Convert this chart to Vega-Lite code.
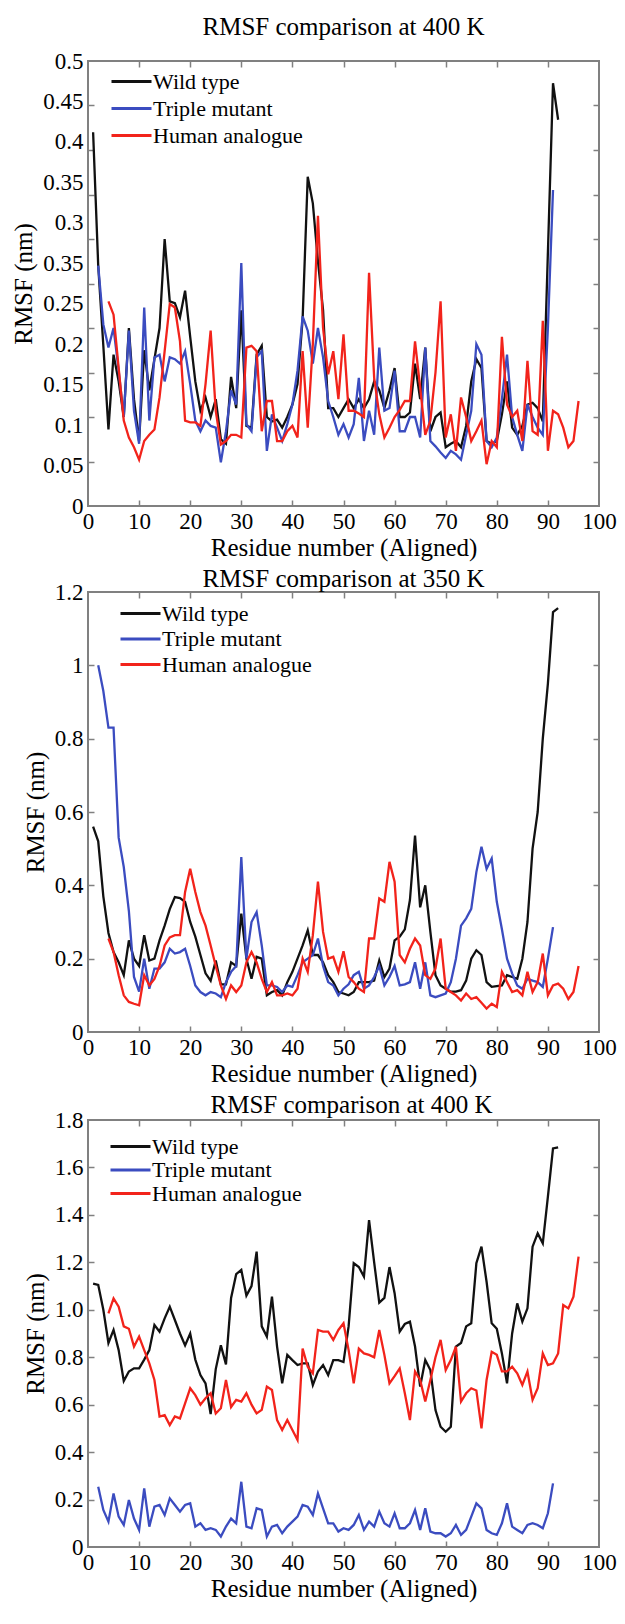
{
"$schema": "https://vega.github.io/schema/vega-lite/v6.json",
"padding": {"left": 10, "top": 14, "right": 5, "bottom": 5},
"spacing": 5,
"resolve": {"scale": {"color": "independent"}, "legend": {"color": "independent"}},
"config": {
 "font": "Liberation Serif, DejaVu Serif, serif",
 "view": {"stroke": "#808080", "strokeWidth": 2},
 "axis": {"labelFont": "Liberation Serif, DejaVu Serif, serif", "labelFontSize": 23, "labelColor": "#000", "titleFont": "Liberation Serif, DejaVu Serif, serif", "titleFontSize": 25, "titleFontWeight": "normal", "titleColor": "#000", "tickColor": "#808080", "tickWidth": 1.5, "grid": false, "domain": false},
 "title": {"font": "Liberation Serif, DejaVu Serif, serif", "fontSize": 25, "fontWeight": "normal", "color": "#000", "anchor": "middle"},
 "legend": {"orient": "none", "title": null, "symbolType": "M-2,0H2", "symbolSize": 400, "symbolStrokeWidth": 3, "labelFont": "Liberation Serif, DejaVu Serif, serif", "labelFontSize": 22, "labelColor": "#000", "labelOffset": 10, "padding": 0}
},
"datasets": {
"p1": [
{"s":"Wild type","r":1,"v":0.42},{"s":"Wild type","r":2,"v":0.27},{"s":"Wild type","r":3,"v":0.18},{"s":"Wild type","r":4,"v":0.086},{"s":"Wild type","r":5,"v":0.17},{"s":"Wild type","r":6,"v":0.14},{"s":"Wild type","r":7,"v":0.1},{"s":"Wild type","r":8,"v":0.2},{"s":"Wild type","r":9,"v":0.12},{"s":"Wild type","r":10,"v":0.073},{"s":"Wild type","r":11,"v":0.175},{"s":"Wild type","r":12,"v":0.13},{"s":"Wild type","r":13,"v":0.165},{"s":"Wild type","r":14,"v":0.2},{"s":"Wild type","r":15,"v":0.3},{"s":"Wild type","r":16,"v":0.23},{"s":"Wild type","r":17,"v":0.228},{"s":"Wild type","r":18,"v":0.212},{"s":"Wild type","r":19,"v":0.242},{"s":"Wild type","r":20,"v":0.19},{"s":"Wild type","r":21,"v":0.14},{"s":"Wild type","r":22,"v":0.107},{"s":"Wild type","r":23,"v":0.122},{"s":"Wild type","r":24,"v":0.1},{"s":"Wild type","r":25,"v":0.12},{"s":"Wild type","r":26,"v":0.075},{"s":"Wild type","r":27,"v":0.07},{"s":"Wild type","r":28,"v":0.145},{"s":"Wild type","r":29,"v":0.11},{"s":"Wild type","r":30,"v":0.22},{"s":"Wild type","r":31,"v":0.09},{"s":"Wild type","r":32,"v":0.088},{"s":"Wild type","r":33,"v":0.17},{"s":"Wild type","r":34,"v":0.18},{"s":"Wild type","r":35,"v":0.1},{"s":"Wild type","r":36,"v":0.095},{"s":"Wild type","r":37,"v":0.097},{"s":"Wild type","r":38,"v":0.088},{"s":"Wild type","r":39,"v":0.1},{"s":"Wild type","r":40,"v":0.114},{"s":"Wild type","r":41,"v":0.137},{"s":"Wild type","r":42,"v":0.21},{"s":"Wild type","r":43,"v":0.37},{"s":"Wild type","r":44,"v":0.34},{"s":"Wild type","r":45,"v":0.275},{"s":"Wild type","r":46,"v":0.22},{"s":"Wild type","r":47,"v":0.11},{"s":"Wild type","r":48,"v":0.11},{"s":"Wild type","r":49,"v":0.1},{"s":"Wild type","r":50,"v":0.11},{"s":"Wild type","r":51,"v":0.12},{"s":"Wild type","r":52,"v":0.11},{"s":"Wild type","r":53,"v":0.12},{"s":"Wild type","r":54,"v":0.11},{"s":"Wild type","r":55,"v":0.12},{"s":"Wild type","r":56,"v":0.14},{"s":"Wild type","r":57,"v":0.13},{"s":"Wild type","r":58,"v":0.11},{"s":"Wild type","r":59,"v":0.13},{"s":"Wild type","r":60,"v":0.155},{"s":"Wild type","r":61,"v":0.1},{"s":"Wild type","r":62,"v":0.1},{"s":"Wild type","r":63,"v":0.105},{"s":"Wild type","r":64,"v":0.16},{"s":"Wild type","r":65,"v":0.12},{"s":"Wild type","r":66,"v":0.178},{"s":"Wild type","r":67,"v":0.084},{"s":"Wild type","r":68,"v":0.1},{"s":"Wild type","r":69,"v":0.105},{"s":"Wild type","r":70,"v":0.066},{"s":"Wild type","r":71,"v":0.07},{"s":"Wild type","r":72,"v":0.073},{"s":"Wild type","r":73,"v":0.066},{"s":"Wild type","r":74,"v":0.09},{"s":"Wild type","r":75,"v":0.14},{"s":"Wild type","r":76,"v":0.165},{"s":"Wild type","r":77,"v":0.155},{"s":"Wild type","r":78,"v":0.073},{"s":"Wild type","r":79,"v":0.07},{"s":"Wild type","r":80,"v":0.073},{"s":"Wild type","r":81,"v":0.103},{"s":"Wild type","r":82,"v":0.14},{"s":"Wild type","r":83,"v":0.088},{"s":"Wild type","r":84,"v":0.08},{"s":"Wild type","r":85,"v":0.09},{"s":"Wild type","r":86,"v":0.114},{"s":"Wild type","r":87,"v":0.116},{"s":"Wild type","r":88,"v":0.11},{"s":"Wild type","r":89,"v":0.095},{"s":"Wild type","r":90,"v":0.285},{"s":"Wild type","r":91,"v":0.475},{"s":"Wild type","r":92,"v":0.434},
{"s":"Triple mutant","r":2,"v":0.27},{"s":"Triple mutant","r":3,"v":0.204},{"s":"Triple mutant","r":4,"v":0.178},{"s":"Triple mutant","r":5,"v":0.2},{"s":"Triple mutant","r":6,"v":0.152},{"s":"Triple mutant","r":7,"v":0.1},{"s":"Triple mutant","r":8,"v":0.197},{"s":"Triple mutant","r":9,"v":0.107},{"s":"Triple mutant","r":10,"v":0.07},{"s":"Triple mutant","r":11,"v":0.223},{"s":"Triple mutant","r":12,"v":0.096},{"s":"Triple mutant","r":13,"v":0.167},{"s":"Triple mutant","r":14,"v":0.17},{"s":"Triple mutant","r":15,"v":0.14},{"s":"Triple mutant","r":16,"v":0.167},{"s":"Triple mutant","r":17,"v":0.165},{"s":"Triple mutant","r":18,"v":0.16},{"s":"Triple mutant","r":19,"v":0.174},{"s":"Triple mutant","r":20,"v":0.137},{"s":"Triple mutant","r":21,"v":0.096},{"s":"Triple mutant","r":22,"v":0.084},{"s":"Triple mutant","r":23,"v":0.096},{"s":"Triple mutant","r":24,"v":0.09},{"s":"Triple mutant","r":25,"v":0.088},{"s":"Triple mutant","r":26,"v":0.049},{"s":"Triple mutant","r":27,"v":0.084},{"s":"Triple mutant","r":28,"v":0.13},{"s":"Triple mutant","r":29,"v":0.114},{"s":"Triple mutant","r":30,"v":0.273},{"s":"Triple mutant","r":31,"v":0.092},{"s":"Triple mutant","r":32,"v":0.084},{"s":"Triple mutant","r":33,"v":0.167},{"s":"Triple mutant","r":34,"v":0.174},{"s":"Triple mutant","r":35,"v":0.062},{"s":"Triple mutant","r":36,"v":0.103},{"s":"Triple mutant","r":37,"v":0.088},{"s":"Triple mutant","r":38,"v":0.073},{"s":"Triple mutant","r":39,"v":0.092},{"s":"Triple mutant","r":40,"v":0.114},{"s":"Triple mutant","r":41,"v":0.152},{"s":"Triple mutant","r":42,"v":0.213},{"s":"Triple mutant","r":43,"v":0.197},{"s":"Triple mutant","r":44,"v":0.16},{"s":"Triple mutant","r":45,"v":0.2},{"s":"Triple mutant","r":46,"v":0.167},{"s":"Triple mutant","r":47,"v":0.118},{"s":"Triple mutant","r":48,"v":0.1},{"s":"Triple mutant","r":49,"v":0.08},{"s":"Triple mutant","r":50,"v":0.092},{"s":"Triple mutant","r":51,"v":0.077},{"s":"Triple mutant","r":52,"v":0.092},{"s":"Triple mutant","r":53,"v":0.144},{"s":"Triple mutant","r":54,"v":0.073},{"s":"Triple mutant","r":55,"v":0.107},{"s":"Triple mutant","r":56,"v":0.08},{"s":"Triple mutant","r":57,"v":0.178},{"s":"Triple mutant","r":58,"v":0.107},{"s":"Triple mutant","r":59,"v":0.11},{"s":"Triple mutant","r":60,"v":0.152},{"s":"Triple mutant","r":61,"v":0.084},{"s":"Triple mutant","r":62,"v":0.084},{"s":"Triple mutant","r":63,"v":0.1},{"s":"Triple mutant","r":64,"v":0.1},{"s":"Triple mutant","r":65,"v":0.077},{"s":"Triple mutant","r":66,"v":0.178},{"s":"Triple mutant","r":67,"v":0.073},{"s":"Triple mutant","r":68,"v":0.067},{"s":"Triple mutant","r":69,"v":0.06},{"s":"Triple mutant","r":70,"v":0.054},{"s":"Triple mutant","r":71,"v":0.062},{"s":"Triple mutant","r":72,"v":0.058},{"s":"Triple mutant","r":73,"v":0.052},{"s":"Triple mutant","r":74,"v":0.08},{"s":"Triple mutant","r":75,"v":0.107},{"s":"Triple mutant","r":76,"v":0.182},{"s":"Triple mutant","r":77,"v":0.17},{"s":"Triple mutant","r":78,"v":0.073},{"s":"Triple mutant","r":79,"v":0.066},{"s":"Triple mutant","r":80,"v":0.077},{"s":"Triple mutant","r":81,"v":0.12},{"s":"Triple mutant","r":82,"v":0.17},{"s":"Triple mutant","r":83,"v":0.1},{"s":"Triple mutant","r":84,"v":0.08},{"s":"Triple mutant","r":85,"v":0.062},{"s":"Triple mutant","r":86,"v":0.114},{"s":"Triple mutant","r":87,"v":0.1},{"s":"Triple mutant","r":88,"v":0.088},{"s":"Triple mutant","r":89,"v":0.08},{"s":"Triple mutant","r":90,"v":0.2},{"s":"Triple mutant","r":91,"v":0.355},
{"s":"Human analogue","r":4,"v":0.23},{"s":"Human analogue","r":5,"v":0.215},{"s":"Human analogue","r":6,"v":0.155},{"s":"Human analogue","r":7,"v":0.096},{"s":"Human analogue","r":8,"v":0.077},{"s":"Human analogue","r":9,"v":0.066},{"s":"Human analogue","r":10,"v":0.052},{"s":"Human analogue","r":11,"v":0.073},{"s":"Human analogue","r":12,"v":0.08},{"s":"Human analogue","r":13,"v":0.086},{"s":"Human analogue","r":14,"v":0.122},{"s":"Human analogue","r":15,"v":0.174},{"s":"Human analogue","r":16,"v":0.227},{"s":"Human analogue","r":17,"v":0.223},{"s":"Human analogue","r":18,"v":0.185},{"s":"Human analogue","r":19,"v":0.096},{"s":"Human analogue","r":20,"v":0.094},{"s":"Human analogue","r":21,"v":0.094},{"s":"Human analogue","r":22,"v":0.09},{"s":"Human analogue","r":23,"v":0.137},{"s":"Human analogue","r":24,"v":0.197},{"s":"Human analogue","r":25,"v":0.107},{"s":"Human analogue","r":26,"v":0.069},{"s":"Human analogue","r":27,"v":0.073},{"s":"Human analogue","r":28,"v":0.08},{"s":"Human analogue","r":29,"v":0.08},{"s":"Human analogue","r":30,"v":0.077},{"s":"Human analogue","r":31,"v":0.178},{"s":"Human analogue","r":32,"v":0.18},{"s":"Human analogue","r":33,"v":0.174},{"s":"Human analogue","r":34,"v":0.084},{"s":"Human analogue","r":35,"v":0.118},{"s":"Human analogue","r":36,"v":0.118},{"s":"Human analogue","r":37,"v":0.073},{"s":"Human analogue","r":38,"v":0.073},{"s":"Human analogue","r":39,"v":0.084},{"s":"Human analogue","r":40,"v":0.09},{"s":"Human analogue","r":41,"v":0.077},{"s":"Human analogue","r":42,"v":0.174},{"s":"Human analogue","r":43,"v":0.088},{"s":"Human analogue","r":44,"v":0.182},{"s":"Human analogue","r":45,"v":0.326},{"s":"Human analogue","r":46,"v":0.2},{"s":"Human analogue","r":47,"v":0.148},{"s":"Human analogue","r":48,"v":0.174},{"s":"Human analogue","r":49,"v":0.12},{"s":"Human analogue","r":50,"v":0.193},{"s":"Human analogue","r":51,"v":0.107},{"s":"Human analogue","r":52,"v":0.107},{"s":"Human analogue","r":53,"v":0.104},{"s":"Human analogue","r":54,"v":0.1},{"s":"Human analogue","r":55,"v":0.262},{"s":"Human analogue","r":56,"v":0.144},{"s":"Human analogue","r":57,"v":0.103},{"s":"Human analogue","r":58,"v":0.077},{"s":"Human analogue","r":59,"v":0.088},{"s":"Human analogue","r":60,"v":0.1},{"s":"Human analogue","r":61,"v":0.108},{"s":"Human analogue","r":62,"v":0.118},{"s":"Human analogue","r":63,"v":0.118},{"s":"Human analogue","r":64,"v":0.185},{"s":"Human analogue","r":65,"v":0.133},{"s":"Human analogue","r":66,"v":0.08},{"s":"Human analogue","r":67,"v":0.096},{"s":"Human analogue","r":68,"v":0.15},{"s":"Human analogue","r":69,"v":0.23},{"s":"Human analogue","r":70,"v":0.077},{"s":"Human analogue","r":71,"v":0.103},{"s":"Human analogue","r":72,"v":0.062},{"s":"Human analogue","r":73,"v":0.122},{"s":"Human analogue","r":74,"v":0.1},{"s":"Human analogue","r":75,"v":0.073},{"s":"Human analogue","r":76,"v":0.084},{"s":"Human analogue","r":77,"v":0.096},{"s":"Human analogue","r":78,"v":0.047},{"s":"Human analogue","r":79,"v":0.073},{"s":"Human analogue","r":80,"v":0.066},{"s":"Human analogue","r":81,"v":0.19},{"s":"Human analogue","r":82,"v":0.114},{"s":"Human analogue","r":83,"v":0.1},{"s":"Human analogue","r":84,"v":0.107},{"s":"Human analogue","r":85,"v":0.073},{"s":"Human analogue","r":86,"v":0.163},{"s":"Human analogue","r":87,"v":0.084},{"s":"Human analogue","r":88,"v":0.08},{"s":"Human analogue","r":89,"v":0.208},{"s":"Human analogue","r":90,"v":0.062},{"s":"Human analogue","r":91,"v":0.107},{"s":"Human analogue","r":92,"v":0.103},{"s":"Human analogue","r":93,"v":0.088},{"s":"Human analogue","r":94,"v":0.066},{"s":"Human analogue","r":95,"v":0.073},{"s":"Human analogue","r":96,"v":0.118}
],
"p2": [
{"s":"Wild type","r":1,"v":0.56},{"s":"Wild type","r":2,"v":0.52},{"s":"Wild type","r":3,"v":0.37},{"s":"Wild type","r":4,"v":0.27},{"s":"Wild type","r":5,"v":0.218},{"s":"Wild type","r":6,"v":0.19},{"s":"Wild type","r":7,"v":0.155},{"s":"Wild type","r":8,"v":0.25},{"s":"Wild type","r":9,"v":0.2},{"s":"Wild type","r":10,"v":0.18},{"s":"Wild type","r":11,"v":0.264},{"s":"Wild type","r":12,"v":0.195},{"s":"Wild type","r":13,"v":0.2},{"s":"Wild type","r":14,"v":0.25},{"s":"Wild type","r":15,"v":0.29},{"s":"Wild type","r":16,"v":0.335},{"s":"Wild type","r":17,"v":0.368},{"s":"Wild type","r":18,"v":0.365},{"s":"Wild type","r":19,"v":0.355},{"s":"Wild type","r":20,"v":0.3},{"s":"Wild type","r":21,"v":0.26},{"s":"Wild type","r":22,"v":0.21},{"s":"Wild type","r":23,"v":0.16},{"s":"Wild type","r":24,"v":0.14},{"s":"Wild type","r":25,"v":0.195},{"s":"Wild type","r":26,"v":0.13},{"s":"Wild type","r":27,"v":0.13},{"s":"Wild type","r":28,"v":0.19},{"s":"Wild type","r":29,"v":0.18},{"s":"Wild type","r":30,"v":0.323},{"s":"Wild type","r":31,"v":0.2},{"s":"Wild type","r":32,"v":0.145},{"s":"Wild type","r":33,"v":0.205},{"s":"Wild type","r":34,"v":0.2},{"s":"Wild type","r":35,"v":0.1},{"s":"Wild type","r":36,"v":0.109},{"s":"Wild type","r":37,"v":0.114},{"s":"Wild type","r":38,"v":0.1},{"s":"Wild type","r":39,"v":0.136},{"s":"Wild type","r":40,"v":0.164},{"s":"Wild type","r":41,"v":0.2},{"s":"Wild type","r":42,"v":0.236},{"s":"Wild type","r":43,"v":0.277},{"s":"Wild type","r":44,"v":0.21},{"s":"Wild type","r":45,"v":0.21},{"s":"Wild type","r":46,"v":0.19},{"s":"Wild type","r":47,"v":0.155},{"s":"Wild type","r":48,"v":0.136},{"s":"Wild type","r":49,"v":0.109},{"s":"Wild type","r":50,"v":0.105},{"s":"Wild type","r":51,"v":0.1},{"s":"Wild type","r":52,"v":0.109},{"s":"Wild type","r":53,"v":0.136},{"s":"Wild type","r":54,"v":0.136},{"s":"Wild type","r":55,"v":0.136},{"s":"Wild type","r":56,"v":0.14},{"s":"Wild type","r":57,"v":0.195},{"s":"Wild type","r":58,"v":0.15},{"s":"Wild type","r":59,"v":0.173},{"s":"Wild type","r":60,"v":0.25},{"s":"Wild type","r":61,"v":0.26},{"s":"Wild type","r":62,"v":0.28},{"s":"Wild type","r":63,"v":0.36},{"s":"Wild type","r":64,"v":0.536},{"s":"Wild type","r":65,"v":0.34},{"s":"Wild type","r":66,"v":0.4},{"s":"Wild type","r":67,"v":0.273},{"s":"Wild type","r":68,"v":0.155},{"s":"Wild type","r":69,"v":0.127},{"s":"Wild type","r":70,"v":0.118},{"s":"Wild type","r":71,"v":0.11},{"s":"Wild type","r":72,"v":0.11},{"s":"Wild type","r":73,"v":0.114},{"s":"Wild type","r":74,"v":0.14},{"s":"Wild type","r":75,"v":0.2},{"s":"Wild type","r":76,"v":0.223},{"s":"Wild type","r":77,"v":0.21},{"s":"Wild type","r":78,"v":0.136},{"s":"Wild type","r":79,"v":0.123},{"s":"Wild type","r":80,"v":0.125},{"s":"Wild type","r":81,"v":0.127},{"s":"Wild type","r":82,"v":0.155},{"s":"Wild type","r":83,"v":0.15},{"s":"Wild type","r":84,"v":0.145},{"s":"Wild type","r":85,"v":0.2},{"s":"Wild type","r":86,"v":0.3},{"s":"Wild type","r":87,"v":0.5},{"s":"Wild type","r":88,"v":0.6},{"s":"Wild type","r":89,"v":0.8},{"s":"Wild type","r":90,"v":0.95},{"s":"Wild type","r":91,"v":1.145},{"s":"Wild type","r":92,"v":1.156},
{"s":"Triple mutant","r":2,"v":1.0},{"s":"Triple mutant","r":3,"v":0.93},{"s":"Triple mutant","r":4,"v":0.83},{"s":"Triple mutant","r":5,"v":0.83},{"s":"Triple mutant","r":6,"v":0.53},{"s":"Triple mutant","r":7,"v":0.45},{"s":"Triple mutant","r":8,"v":0.33},{"s":"Triple mutant","r":9,"v":0.15},{"s":"Triple mutant","r":10,"v":0.11},{"s":"Triple mutant","r":11,"v":0.2},{"s":"Triple mutant","r":12,"v":0.118},{"s":"Triple mutant","r":13,"v":0.173},{"s":"Triple mutant","r":14,"v":0.173},{"s":"Triple mutant","r":15,"v":0.19},{"s":"Triple mutant","r":16,"v":0.227},{"s":"Triple mutant","r":17,"v":0.214},{"s":"Triple mutant","r":18,"v":0.218},{"s":"Triple mutant","r":19,"v":0.227},{"s":"Triple mutant","r":20,"v":0.18},{"s":"Triple mutant","r":21,"v":0.127},{"s":"Triple mutant","r":22,"v":0.109},{"s":"Triple mutant","r":23,"v":0.1},{"s":"Triple mutant","r":24,"v":0.109},{"s":"Triple mutant","r":25,"v":0.105},{"s":"Triple mutant","r":26,"v":0.095},{"s":"Triple mutant","r":27,"v":0.136},{"s":"Triple mutant","r":28,"v":0.164},{"s":"Triple mutant","r":29,"v":0.18},{"s":"Triple mutant","r":30,"v":0.477},{"s":"Triple mutant","r":31,"v":0.2},{"s":"Triple mutant","r":32,"v":0.3},{"s":"Triple mutant","r":33,"v":0.327},{"s":"Triple mutant","r":34,"v":0.236},{"s":"Triple mutant","r":35,"v":0.127},{"s":"Triple mutant","r":36,"v":0.127},{"s":"Triple mutant","r":37,"v":0.123},{"s":"Triple mutant","r":38,"v":0.109},{"s":"Triple mutant","r":39,"v":0.127},{"s":"Triple mutant","r":40,"v":0.123},{"s":"Triple mutant","r":41,"v":0.155},{"s":"Triple mutant","r":42,"v":0.19},{"s":"Triple mutant","r":43,"v":0.2},{"s":"Triple mutant","r":44,"v":0.21},{"s":"Triple mutant","r":45,"v":0.255},{"s":"Triple mutant","r":46,"v":0.18},{"s":"Triple mutant","r":47,"v":0.136},{"s":"Triple mutant","r":48,"v":0.127},{"s":"Triple mutant","r":49,"v":0.1},{"s":"Triple mutant","r":50,"v":0.118},{"s":"Triple mutant","r":51,"v":0.13},{"s":"Triple mutant","r":52,"v":0.155},{"s":"Triple mutant","r":53,"v":0.164},{"s":"Triple mutant","r":54,"v":0.118},{"s":"Triple mutant","r":55,"v":0.127},{"s":"Triple mutant","r":56,"v":0.15},{"s":"Triple mutant","r":57,"v":0.18},{"s":"Triple mutant","r":58,"v":0.127},{"s":"Triple mutant","r":59,"v":0.15},{"s":"Triple mutant","r":60,"v":0.18},{"s":"Triple mutant","r":61,"v":0.127},{"s":"Triple mutant","r":62,"v":0.13},{"s":"Triple mutant","r":63,"v":0.136},{"s":"Triple mutant","r":64,"v":0.19},{"s":"Triple mutant","r":65,"v":0.118},{"s":"Triple mutant","r":66,"v":0.19},{"s":"Triple mutant","r":67,"v":0.1},{"s":"Triple mutant","r":68,"v":0.095},{"s":"Triple mutant","r":69,"v":0.1},{"s":"Triple mutant","r":70,"v":0.105},{"s":"Triple mutant","r":71,"v":0.136},{"s":"Triple mutant","r":72,"v":0.2},{"s":"Triple mutant","r":73,"v":0.29},{"s":"Triple mutant","r":74,"v":0.31},{"s":"Triple mutant","r":75,"v":0.336},{"s":"Triple mutant","r":76,"v":0.436},{"s":"Triple mutant","r":77,"v":0.505},{"s":"Triple mutant","r":78,"v":0.445},{"s":"Triple mutant","r":79,"v":0.473},{"s":"Triple mutant","r":80,"v":0.355},{"s":"Triple mutant","r":81,"v":0.28},{"s":"Triple mutant","r":82,"v":0.2},{"s":"Triple mutant","r":83,"v":0.16},{"s":"Triple mutant","r":84,"v":0.127},{"s":"Triple mutant","r":85,"v":0.118},{"s":"Triple mutant","r":86,"v":0.145},{"s":"Triple mutant","r":87,"v":0.14},{"s":"Triple mutant","r":88,"v":0.136},{"s":"Triple mutant","r":89,"v":0.123},{"s":"Triple mutant","r":90,"v":0.2},{"s":"Triple mutant","r":91,"v":0.286},
{"s":"Human analogue","r":4,"v":0.255},{"s":"Human analogue","r":5,"v":0.218},{"s":"Human analogue","r":6,"v":0.155},{"s":"Human analogue","r":7,"v":0.1},{"s":"Human analogue","r":8,"v":0.082},{"s":"Human analogue","r":9,"v":0.077},{"s":"Human analogue","r":10,"v":0.073},{"s":"Human analogue","r":11,"v":0.155},{"s":"Human analogue","r":12,"v":0.127},{"s":"Human analogue","r":13,"v":0.145},{"s":"Human analogue","r":14,"v":0.18},{"s":"Human analogue","r":15,"v":0.236},{"s":"Human analogue","r":16,"v":0.258},{"s":"Human analogue","r":17,"v":0.264},{"s":"Human analogue","r":18,"v":0.264},{"s":"Human analogue","r":19,"v":0.382},{"s":"Human analogue","r":20,"v":0.445},{"s":"Human analogue","r":21,"v":0.382},{"s":"Human analogue","r":22,"v":0.327},{"s":"Human analogue","r":23,"v":0.29},{"s":"Human analogue","r":24,"v":0.236},{"s":"Human analogue","r":25,"v":0.18},{"s":"Human analogue","r":26,"v":0.127},{"s":"Human analogue","r":27,"v":0.09},{"s":"Human analogue","r":28,"v":0.127},{"s":"Human analogue","r":29,"v":0.109},{"s":"Human analogue","r":30,"v":0.127},{"s":"Human analogue","r":31,"v":0.19},{"s":"Human analogue","r":32,"v":0.218},{"s":"Human analogue","r":33,"v":0.19},{"s":"Human analogue","r":34,"v":0.145},{"s":"Human analogue","r":35,"v":0.109},{"s":"Human analogue","r":36,"v":0.136},{"s":"Human analogue","r":37,"v":0.1},{"s":"Human analogue","r":38,"v":0.1},{"s":"Human analogue","r":39,"v":0.105},{"s":"Human analogue","r":40,"v":0.1},{"s":"Human analogue","r":41,"v":0.118},{"s":"Human analogue","r":42,"v":0.2},{"s":"Human analogue","r":43,"v":0.164},{"s":"Human analogue","r":44,"v":0.264},{"s":"Human analogue","r":45,"v":0.41},{"s":"Human analogue","r":46,"v":0.273},{"s":"Human analogue","r":47,"v":0.2},{"s":"Human analogue","r":48,"v":0.205},{"s":"Human analogue","r":49,"v":0.164},{"s":"Human analogue","r":50,"v":0.22},{"s":"Human analogue","r":51,"v":0.15},{"s":"Human analogue","r":52,"v":0.136},{"s":"Human analogue","r":53,"v":0.118},{"s":"Human analogue","r":54,"v":0.109},{"s":"Human analogue","r":55,"v":0.255},{"s":"Human analogue","r":56,"v":0.255},{"s":"Human analogue","r":57,"v":0.364},{"s":"Human analogue","r":58,"v":0.355},{"s":"Human analogue","r":59,"v":0.464},{"s":"Human analogue","r":60,"v":0.41},{"s":"Human analogue","r":61,"v":0.21},{"s":"Human analogue","r":62,"v":0.19},{"s":"Human analogue","r":63,"v":0.227},{"s":"Human analogue","r":64,"v":0.255},{"s":"Human analogue","r":65,"v":0.236},{"s":"Human analogue","r":66,"v":0.155},{"s":"Human analogue","r":67,"v":0.145},{"s":"Human analogue","r":68,"v":0.173},{"s":"Human analogue","r":69,"v":0.255},{"s":"Human analogue","r":70,"v":0.118},{"s":"Human analogue","r":71,"v":0.109},{"s":"Human analogue","r":72,"v":0.1},{"s":"Human analogue","r":73,"v":0.086},{"s":"Human analogue","r":74,"v":0.105},{"s":"Human analogue","r":75,"v":0.09},{"s":"Human analogue","r":76,"v":0.095},{"s":"Human analogue","r":77,"v":0.08},{"s":"Human analogue","r":78,"v":0.064},{"s":"Human analogue","r":79,"v":0.077},{"s":"Human analogue","r":80,"v":0.068},{"s":"Human analogue","r":81,"v":0.164},{"s":"Human analogue","r":82,"v":0.136},{"s":"Human analogue","r":83,"v":0.109},{"s":"Human analogue","r":84,"v":0.114},{"s":"Human analogue","r":85,"v":0.1},{"s":"Human analogue","r":86,"v":0.164},{"s":"Human analogue","r":87,"v":0.109},{"s":"Human analogue","r":88,"v":0.136},{"s":"Human analogue","r":89,"v":0.214},{"s":"Human analogue","r":90,"v":0.1},{"s":"Human analogue","r":91,"v":0.127},{"s":"Human analogue","r":92,"v":0.132},{"s":"Human analogue","r":93,"v":0.118},{"s":"Human analogue","r":94,"v":0.09},{"s":"Human analogue","r":95,"v":0.109},{"s":"Human analogue","r":96,"v":0.18}
],
"p3": [
{"s":"Wild type","r":1,"v":1.11},{"s":"Wild type","r":2,"v":1.105},{"s":"Wild type","r":3,"v":1.0},{"s":"Wild type","r":4,"v":0.86},{"s":"Wild type","r":5,"v":0.915},{"s":"Wild type","r":6,"v":0.83},{"s":"Wild type","r":7,"v":0.7},{"s":"Wild type","r":8,"v":0.74},{"s":"Wild type","r":9,"v":0.753},{"s":"Wild type","r":10,"v":0.753},{"s":"Wild type","r":11,"v":0.79},{"s":"Wild type","r":12,"v":0.83},{"s":"Wild type","r":13,"v":0.936},{"s":"Wild type","r":14,"v":0.908},{"s":"Wild type","r":15,"v":0.964},{"s":"Wild type","r":16,"v":1.013},{"s":"Wild type","r":17,"v":0.957},{"s":"Wild type","r":18,"v":0.9},{"s":"Wild type","r":19,"v":0.85},{"s":"Wild type","r":20,"v":0.9},{"s":"Wild type","r":21,"v":0.79},{"s":"Wild type","r":22,"v":0.725},{"s":"Wild type","r":23,"v":0.69},{"s":"Wild type","r":24,"v":0.56},{"s":"Wild type","r":25,"v":0.75},{"s":"Wild type","r":26,"v":0.85},{"s":"Wild type","r":27,"v":0.77},{"s":"Wild type","r":28,"v":1.05},{"s":"Wild type","r":29,"v":1.15},{"s":"Wild type","r":30,"v":1.168},{"s":"Wild type","r":31,"v":1.06},{"s":"Wild type","r":32,"v":1.1},{"s":"Wild type","r":33,"v":1.245},{"s":"Wild type","r":34,"v":0.93},{"s":"Wild type","r":35,"v":0.887},{"s":"Wild type","r":36,"v":1.055},{"s":"Wild type","r":37,"v":0.845},{"s":"Wild type","r":38,"v":0.69},{"s":"Wild type","r":39,"v":0.81},{"s":"Wild type","r":40,"v":0.788},{"s":"Wild type","r":41,"v":0.767},{"s":"Wild type","r":42,"v":0.774},{"s":"Wild type","r":43,"v":0.774},{"s":"Wild type","r":44,"v":0.683},{"s":"Wild type","r":45,"v":0.74},{"s":"Wild type","r":46,"v":0.767},{"s":"Wild type","r":47,"v":0.725},{"s":"Wild type","r":48,"v":0.788},{"s":"Wild type","r":49,"v":0.788},{"s":"Wild type","r":50,"v":0.78},{"s":"Wild type","r":51,"v":0.93},{"s":"Wild type","r":52,"v":1.196},{"s":"Wild type","r":53,"v":1.18},{"s":"Wild type","r":54,"v":1.14},{"s":"Wild type","r":55,"v":1.378},{"s":"Wild type","r":56,"v":1.2},{"s":"Wild type","r":57,"v":1.03},{"s":"Wild type","r":58,"v":1.05},{"s":"Wild type","r":59,"v":1.18},{"s":"Wild type","r":60,"v":1.07},{"s":"Wild type","r":61,"v":0.908},{"s":"Wild type","r":62,"v":0.94},{"s":"Wild type","r":63,"v":0.95},{"s":"Wild type","r":64,"v":0.845},{"s":"Wild type","r":65,"v":0.676},{"s":"Wild type","r":66,"v":0.788},{"s":"Wild type","r":67,"v":0.746},{"s":"Wild type","r":68,"v":0.577},{"s":"Wild type","r":69,"v":0.507},{"s":"Wild type","r":70,"v":0.486},{"s":"Wild type","r":71,"v":0.507},{"s":"Wild type","r":72,"v":0.845},{"s":"Wild type","r":73,"v":0.86},{"s":"Wild type","r":74,"v":0.93},{"s":"Wild type","r":75,"v":0.943},{"s":"Wild type","r":76,"v":1.196},{"s":"Wild type","r":77,"v":1.266},{"s":"Wild type","r":78,"v":1.118},{"s":"Wild type","r":79,"v":0.943},{"s":"Wild type","r":80,"v":0.92},{"s":"Wild type","r":81,"v":0.816},{"s":"Wild type","r":82,"v":0.69},{"s":"Wild type","r":83,"v":0.9},{"s":"Wild type","r":84,"v":1.027},{"s":"Wild type","r":85,"v":0.95},{"s":"Wild type","r":86,"v":1.006},{"s":"Wild type","r":87,"v":1.266},{"s":"Wild type","r":88,"v":1.322},{"s":"Wild type","r":89,"v":1.28},{"s":"Wild type","r":90,"v":1.477},{"s":"Wild type","r":91,"v":1.68},{"s":"Wild type","r":92,"v":1.685},
{"s":"Triple mutant","r":2,"v":0.254},{"s":"Triple mutant","r":3,"v":0.156},{"s":"Triple mutant","r":4,"v":0.107},{"s":"Triple mutant","r":5,"v":0.226},{"s":"Triple mutant","r":6,"v":0.128},{"s":"Triple mutant","r":7,"v":0.093},{"s":"Triple mutant","r":8,"v":0.198},{"s":"Triple mutant","r":9,"v":0.12},{"s":"Triple mutant","r":10,"v":0.072},{"s":"Triple mutant","r":11,"v":0.247},{"s":"Triple mutant","r":12,"v":0.086},{"s":"Triple mutant","r":13,"v":0.17},{"s":"Triple mutant","r":14,"v":0.177},{"s":"Triple mutant","r":15,"v":0.135},{"s":"Triple mutant","r":16,"v":0.205},{"s":"Triple mutant","r":17,"v":0.177},{"s":"Triple mutant","r":18,"v":0.149},{"s":"Triple mutant","r":19,"v":0.177},{"s":"Triple mutant","r":20,"v":0.184},{"s":"Triple mutant","r":21,"v":0.086},{"s":"Triple mutant","r":22,"v":0.1},{"s":"Triple mutant","r":23,"v":0.072},{"s":"Triple mutant","r":24,"v":0.079},{"s":"Triple mutant","r":25,"v":0.072},{"s":"Triple mutant","r":26,"v":0.044},{"s":"Triple mutant","r":27,"v":0.086},{"s":"Triple mutant","r":28,"v":0.12},{"s":"Triple mutant","r":29,"v":0.1},{"s":"Triple mutant","r":30,"v":0.275},{"s":"Triple mutant","r":31,"v":0.086},{"s":"Triple mutant","r":32,"v":0.079},{"s":"Triple mutant","r":33,"v":0.163},{"s":"Triple mutant","r":34,"v":0.156},{"s":"Triple mutant","r":35,"v":0.044},{"s":"Triple mutant","r":36,"v":0.086},{"s":"Triple mutant","r":37,"v":0.093},{"s":"Triple mutant","r":38,"v":0.058},{"s":"Triple mutant","r":39,"v":0.086},{"s":"Triple mutant","r":40,"v":0.107},{"s":"Triple mutant","r":41,"v":0.128},{"s":"Triple mutant","r":42,"v":0.177},{"s":"Triple mutant","r":43,"v":0.17},{"s":"Triple mutant","r":44,"v":0.135},{"s":"Triple mutant","r":45,"v":0.226},{"s":"Triple mutant","r":46,"v":0.163},{"s":"Triple mutant","r":47,"v":0.1},{"s":"Triple mutant","r":48,"v":0.1},{"s":"Triple mutant","r":49,"v":0.065},{"s":"Triple mutant","r":50,"v":0.079},{"s":"Triple mutant","r":51,"v":0.072},{"s":"Triple mutant","r":52,"v":0.093},{"s":"Triple mutant","r":53,"v":0.135},{"s":"Triple mutant","r":54,"v":0.072},{"s":"Triple mutant","r":55,"v":0.107},{"s":"Triple mutant","r":56,"v":0.086},{"s":"Triple mutant","r":57,"v":0.149},{"s":"Triple mutant","r":58,"v":0.1},{"s":"Triple mutant","r":59,"v":0.086},{"s":"Triple mutant","r":60,"v":0.142},{"s":"Triple mutant","r":61,"v":0.079},{"s":"Triple mutant","r":62,"v":0.079},{"s":"Triple mutant","r":63,"v":0.1},{"s":"Triple mutant","r":64,"v":0.156},{"s":"Triple mutant","r":65,"v":0.072},{"s":"Triple mutant","r":66,"v":0.163},{"s":"Triple mutant","r":67,"v":0.065},{"s":"Triple mutant","r":68,"v":0.058},{"s":"Triple mutant","r":69,"v":0.058},{"s":"Triple mutant","r":70,"v":0.044},{"s":"Triple mutant","r":71,"v":0.058},{"s":"Triple mutant","r":72,"v":0.093},{"s":"Triple mutant","r":73,"v":0.051},{"s":"Triple mutant","r":74,"v":0.072},{"s":"Triple mutant","r":75,"v":0.128},{"s":"Triple mutant","r":76,"v":0.184},{"s":"Triple mutant","r":77,"v":0.163},{"s":"Triple mutant","r":78,"v":0.072},{"s":"Triple mutant","r":79,"v":0.058},{"s":"Triple mutant","r":80,"v":0.051},{"s":"Triple mutant","r":81,"v":0.1},{"s":"Triple mutant","r":82,"v":0.184},{"s":"Triple mutant","r":83,"v":0.086},{"s":"Triple mutant","r":84,"v":0.072},{"s":"Triple mutant","r":85,"v":0.058},{"s":"Triple mutant","r":86,"v":0.093},{"s":"Triple mutant","r":87,"v":0.1},{"s":"Triple mutant","r":88,"v":0.093},{"s":"Triple mutant","r":89,"v":0.079},{"s":"Triple mutant","r":90,"v":0.142},{"s":"Triple mutant","r":91,"v":0.268},
{"s":"Human analogue","r":4,"v":0.985},{"s":"Human analogue","r":5,"v":1.048},{"s":"Human analogue","r":6,"v":1.013},{"s":"Human analogue","r":7,"v":0.93},{"s":"Human analogue","r":8,"v":0.92},{"s":"Human analogue","r":9,"v":0.845},{"s":"Human analogue","r":10,"v":0.887},{"s":"Human analogue","r":11,"v":0.83},{"s":"Human analogue","r":12,"v":0.774},{"s":"Human analogue","r":13,"v":0.704},{"s":"Human analogue","r":14,"v":0.55},{"s":"Human analogue","r":15,"v":0.556},{"s":"Human analogue","r":16,"v":0.514},{"s":"Human analogue","r":17,"v":0.55},{"s":"Human analogue","r":18,"v":0.542},{"s":"Human analogue","r":19,"v":0.605},{"s":"Human analogue","r":20,"v":0.669},{"s":"Human analogue","r":21,"v":0.64},{"s":"Human analogue","r":22,"v":0.6},{"s":"Human analogue","r":23,"v":0.627},{"s":"Human analogue","r":24,"v":0.648},{"s":"Human analogue","r":25,"v":0.563},{"s":"Human analogue","r":26,"v":0.585},{"s":"Human analogue","r":27,"v":0.704},{"s":"Human analogue","r":28,"v":0.59},{"s":"Human analogue","r":29,"v":0.62},{"s":"Human analogue","r":30,"v":0.613},{"s":"Human analogue","r":31,"v":0.648},{"s":"Human analogue","r":32,"v":0.6},{"s":"Human analogue","r":33,"v":0.563},{"s":"Human analogue","r":34,"v":0.578},{"s":"Human analogue","r":35,"v":0.676},{"s":"Human analogue","r":36,"v":0.662},{"s":"Human analogue","r":37,"v":0.535},{"s":"Human analogue","r":38,"v":0.493},{"s":"Human analogue","r":39,"v":0.535},{"s":"Human analogue","r":40,"v":0.493},{"s":"Human analogue","r":41,"v":0.451},{"s":"Human analogue","r":42,"v":0.837},{"s":"Human analogue","r":43,"v":0.76},{"s":"Human analogue","r":44,"v":0.732},{"s":"Human analogue","r":45,"v":0.915},{"s":"Human analogue","r":46,"v":0.908},{"s":"Human analogue","r":47,"v":0.908},{"s":"Human analogue","r":48,"v":0.873},{"s":"Human analogue","r":49,"v":0.915},{"s":"Human analogue","r":50,"v":0.943},{"s":"Human analogue","r":51,"v":0.83},{"s":"Human analogue","r":52,"v":0.69},{"s":"Human analogue","r":53,"v":0.836},{"s":"Human analogue","r":54,"v":0.816},{"s":"Human analogue","r":55,"v":0.81},{"s":"Human analogue","r":56,"v":0.8},{"s":"Human analogue","r":57,"v":0.915},{"s":"Human analogue","r":58,"v":0.81},{"s":"Human analogue","r":59,"v":0.69},{"s":"Human analogue","r":60,"v":0.72},{"s":"Human analogue","r":61,"v":0.753},{"s":"Human analogue","r":62,"v":0.648},{"s":"Human analogue","r":63,"v":0.535},{"s":"Human analogue","r":64,"v":0.74},{"s":"Human analogue","r":65,"v":0.704},{"s":"Human analogue","r":66,"v":0.613},{"s":"Human analogue","r":67,"v":0.704},{"s":"Human analogue","r":68,"v":0.8},{"s":"Human analogue","r":69,"v":0.873},{"s":"Human analogue","r":70,"v":0.746},{"s":"Human analogue","r":71,"v":0.788},{"s":"Human analogue","r":72,"v":0.845},{"s":"Human analogue","r":73,"v":0.613},{"s":"Human analogue","r":74,"v":0.648},{"s":"Human analogue","r":75,"v":0.669},{"s":"Human analogue","r":76,"v":0.66},{"s":"Human analogue","r":77,"v":0.5},{"s":"Human analogue","r":78,"v":0.704},{"s":"Human analogue","r":79,"v":0.823},{"s":"Human analogue","r":80,"v":0.81},{"s":"Human analogue","r":81,"v":0.74},{"s":"Human analogue","r":82,"v":0.74},{"s":"Human analogue","r":83,"v":0.76},{"s":"Human analogue","r":84,"v":0.732},{"s":"Human analogue","r":85,"v":0.683},{"s":"Human analogue","r":86,"v":0.74},{"s":"Human analogue","r":87,"v":0.62},{"s":"Human analogue","r":88,"v":0.669},{"s":"Human analogue","r":89,"v":0.816},{"s":"Human analogue","r":90,"v":0.767},{"s":"Human analogue","r":91,"v":0.774},{"s":"Human analogue","r":92,"v":0.816},{"s":"Human analogue","r":93,"v":1.02},{"s":"Human analogue","r":94,"v":1.006},{"s":"Human analogue","r":95,"v":1.055},{"s":"Human analogue","r":96,"v":1.224}
]
},
"vconcat": [
{
 "title": {"text": "RMSF comparison at 400 K", "offset": 10},
 "width": 511, "height": 445,
 "data": {"name": "p1"},
 "resolve": {"axis": {"x": "independent", "y": "independent"}},
 "layer": [
  {"mark": {"type": "line", "strokeWidth": 2.3},
   "encoding": {
    "x": {"field": "r", "type": "quantitative", "scale": {"domain": [0, 100], "nice": false}, "axis": {"orient": "bottom", "values": [0,10,20,30,40,50,60,70,80,90,100], "ticks": false, "labelPadding": 4, "labelFlush": false, "labelOverlap": false, "title": "Residue number (Aligned)", "titlePadding": 2}},
    "y": {"field": "v", "type": "quantitative", "scale": {"domain": [0, 0.5], "nice": false}, "axis": {"orient": "left", "values": [0,0.0454545,0.0909091,0.1363636,0.1818182,0.2272727,0.2727273,0.3181818,0.3636364,0.4090909,0.4545455,0.5], "labelExpr": "['0','0.05','0.1','0.15','0.2','0.25','0.35','0.3','0.35','0.4','0.45','0.5'][round(datum.value*22)]", "ticks": false, "labelPadding": 5, "labelFlush": false, "labelOverlap": false, "title": "RMSF (nm)", "titlePadding": 6}},
    "color": {"field": "s", "type": "nominal", "scale": {"domain": ["Wild type", "Triple mutant", "Human analogue"], "range": ["#111111", "#3b4cc0", "#f2231b"]}, "legend": {"legendX": 32, "legendY": 9, "rowPadding": 4}}
   }},
  {"mark": {"type": "line", "strokeOpacity": 0},
   "encoding": {
    "x": {"field": "r", "type": "quantitative", "scale": {"domain": [0, 100], "nice": false}, "axis": {"orient": "top", "values": [10,20,30,40,50,60,70,80,90], "labels": false, "tickSize": -6, "title": null}},
    "y": {"field": "v", "type": "quantitative", "scale": {"domain": [0, 0.5], "nice": false}, "axis": {"orient": "right", "values": [0.05,0.1,0.15,0.2,0.25,0.3,0.35,0.4,0.45], "labels": false, "tickSize": -6, "title": null}}
   }},
  {"mark": {"type": "line", "strokeOpacity": 0},
   "encoding": {
    "x": {"field": "r", "type": "quantitative", "scale": {"domain": [0, 100], "nice": false}, "axis": {"orient": "bottom", "values": [10,20,30,40,50,60,70,80,90], "labels": false, "tickSize": -6, "title": null}},
    "y": {"field": "v", "type": "quantitative", "scale": {"domain": [0, 0.5], "nice": false}, "axis": {"orient": "left", "values": [0.05,0.1,0.15,0.2,0.25,0.3,0.35,0.4,0.45], "labels": false, "tickSize": -6, "title": null}}
   }}
 ]
},
{
 "title": {"text": "RMSF comparison at 350 K", "offset": -11},
 "width": 511, "height": 440,
 "data": {"name": "p2"},
 "resolve": {"axis": {"x": "independent", "y": "independent"}},
 "layer": [
  {"mark": {"type": "line", "strokeWidth": 2.3},
   "encoding": {
    "x": {"field": "r", "type": "quantitative", "scale": {"domain": [0, 100], "nice": false}, "axis": {"orient": "bottom", "values": [0,10,20,30,40,50,60,70,80,90,100], "ticks": false, "labelPadding": 4, "labelFlush": false, "labelOverlap": false, "title": "Residue number (Aligned)", "titlePadding": 2}},
    "y": {"field": "v", "type": "quantitative", "scale": {"domain": [0, 1.2], "nice": false}, "axis": {"orient": "left", "values": [0,0.2,0.4,0.6,0.8,1,1.2], "format": "~g", "ticks": false, "labelPadding": 5, "labelFlush": false, "labelOverlap": false, "title": "RMSF (nm)", "titlePadding": 6}},
    "color": {"field": "s", "type": "nominal", "scale": {"domain": ["Wild type", "Triple mutant", "Human analogue"], "range": ["#111111", "#3b4cc0", "#f2231b"]}, "legend": {"legendX": 41, "legendY": 10, "rowPadding": 2.5}}
   }},
  {"mark": {"type": "line", "strokeOpacity": 0},
   "encoding": {
    "x": {"field": "r", "type": "quantitative", "scale": {"domain": [0, 100], "nice": false}, "axis": {"orient": "top", "values": [10,20,30,40,50,60,70,80,90], "labels": false, "tickSize": -6, "title": null}},
    "y": {"field": "v", "type": "quantitative", "scale": {"domain": [0, 1.2], "nice": false}, "axis": {"orient": "right", "values": [0.2,0.4,0.6,0.8,1.0], "labels": false, "tickSize": -6, "title": null}}
   }},
  {"mark": {"type": "line", "strokeOpacity": 0},
   "encoding": {
    "x": {"field": "r", "type": "quantitative", "scale": {"domain": [0, 100], "nice": false}, "axis": {"orient": "bottom", "values": [10,20,30,40,50,60,70,80,90], "labels": false, "tickSize": -6, "title": null}},
    "y": {"field": "v", "type": "quantitative", "scale": {"domain": [0, 1.2], "nice": false}, "axis": {"orient": "left", "values": [0.2,0.4,0.6,0.8,1.0], "labels": false, "tickSize": -6, "title": null}}
   }}
 ]
},
{
 "title": {"text": "RMSF comparison at 400 K", "offset": -1, "dx": 8, "dy": 8},
 "width": 511, "height": 427,
 "data": {"name": "p3"},
 "resolve": {"axis": {"x": "independent", "y": "independent"}},
 "layer": [
  {"mark": {"type": "line", "strokeWidth": 2.3},
   "encoding": {
    "x": {"field": "r", "type": "quantitative", "scale": {"domain": [0, 100], "nice": false}, "axis": {"orient": "bottom", "values": [0,10,20,30,40,50,60,70,80,90,100], "ticks": false, "labelPadding": 4, "labelFlush": false, "labelOverlap": false, "title": "Residue number (Aligned)", "titlePadding": 2}},
    "y": {"field": "v", "type": "quantitative", "scale": {"domain": [0, 1.8], "nice": false}, "axis": {"orient": "left", "values": [0,0.2,0.4,0.6,0.8,1,1.2,1.4,1.6,1.8], "labelExpr": "datum.value == 0 ? '0' : format(datum.value, '.1f')", "ticks": false, "labelPadding": 5, "labelFlush": false, "labelOverlap": false, "title": "RMSF (nm)", "titlePadding": 6}},
    "color": {"field": "s", "type": "nominal", "scale": {"domain": ["Wild type", "Triple mutant", "Human analogue"], "range": ["#111111", "#3b4cc0", "#f2231b"]}, "legend": {"legendX": 31, "legendY": 15, "rowPadding": 0.5}}
   }},
  {"mark": {"type": "line", "strokeOpacity": 0},
   "encoding": {
    "x": {"field": "r", "type": "quantitative", "scale": {"domain": [0, 100], "nice": false}, "axis": {"orient": "top", "values": [10,20,30,40,50,60,70,80,90], "labels": false, "tickSize": -6, "title": null}},
    "y": {"field": "v", "type": "quantitative", "scale": {"domain": [0, 1.8], "nice": false}, "axis": {"orient": "right", "values": [0.2,0.4,0.6,0.8,1.0,1.2,1.4,1.6], "labels": false, "tickSize": -6, "title": null}}
   }},
  {"mark": {"type": "line", "strokeOpacity": 0},
   "encoding": {
    "x": {"field": "r", "type": "quantitative", "scale": {"domain": [0, 100], "nice": false}, "axis": {"orient": "bottom", "values": [10,20,30,40,50,60,70,80,90], "labels": false, "tickSize": -6, "title": null}},
    "y": {"field": "v", "type": "quantitative", "scale": {"domain": [0, 1.8], "nice": false}, "axis": {"orient": "left", "values": [0.2,0.4,0.6,0.8,1.0,1.2,1.4,1.6], "labels": false, "tickSize": -6, "title": null}}
   }}
 ]
}
]
}
